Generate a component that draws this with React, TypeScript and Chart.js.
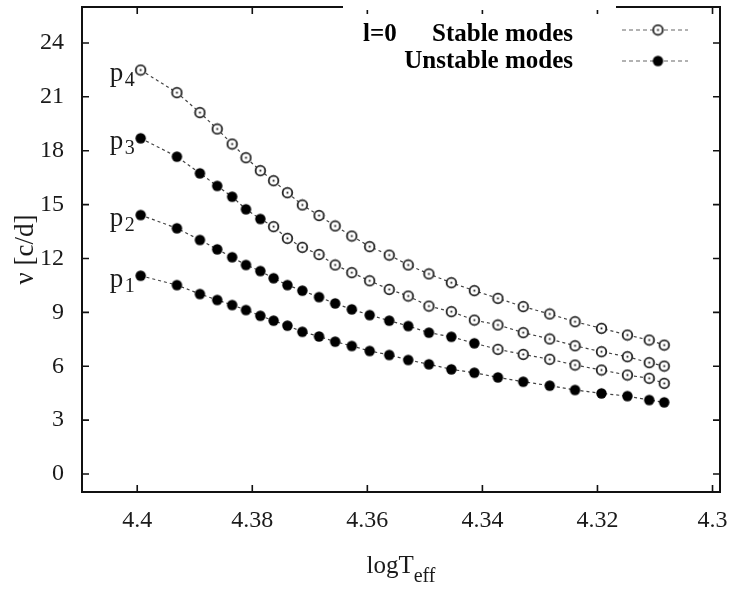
import React, { useEffect, useRef } from 'react';
import { Chart, registerables } from 'chart.js';

Chart.register(...registerables);

// ---- data ----
const logTeff = [
  4.3994, 4.3931, 4.3891, 4.3861, 4.3835, 4.3811, 4.3786, 4.3763, 4.3739, 4.3713,
  4.3684, 4.3656, 4.3627, 4.3596, 4.3562, 4.3529, 4.3493, 4.3454, 4.3414, 4.3373,
  4.3329, 4.3283, 4.3239, 4.3193, 4.3148, 4.3110, 4.3084,
];
const p1 = [
  11.04, 10.52, 10.02, 9.69, 9.41, 9.13, 8.81, 8.54, 8.26, 7.92,
  7.66, 7.37, 7.13, 6.85, 6.63, 6.35, 6.11, 5.83, 5.64, 5.38,
  5.14, 4.92, 4.68, 4.49, 4.34, 4.12, 3.99,
];
const p2 = [
  14.42, 13.68, 13.03, 12.51, 12.07, 11.64, 11.30, 10.90, 10.52, 10.21,
  9.85, 9.50, 9.17, 8.85, 8.54, 8.24, 7.87, 7.64, 7.28, 6.94,
  6.66, 6.39, 6.07, 5.79, 5.51, 5.33, 5.05,
];
const p3 = [
  18.69, 17.67, 16.74, 16.04, 15.44, 14.74, 14.20, 13.77, 13.12, 12.62,
  12.22, 11.64, 11.21, 10.76, 10.28, 9.91, 9.35, 9.04, 8.57, 8.30,
  7.87, 7.52, 7.14, 6.81, 6.53, 6.20, 6.01,
];
const p4 = [
  22.49, 21.23, 20.12, 19.21, 18.37, 17.61, 16.89, 16.33, 15.66, 14.98,
  14.39, 13.81, 13.25, 12.66, 12.19, 11.64, 11.14, 10.65, 10.21, 9.78,
  9.32, 8.91, 8.48, 8.11, 7.74, 7.46, 7.18,
];
const modeSeries = [p1, p2, p3, p4];
const modeNumbers = ['1', '2', '3', '4'];
// number of leading (hot side) points that are unstable, per mode
const unstableCounts = [27, 19, 7, 0];
const xTickValues = [4.4, 4.38, 4.36, 4.34, 4.32, 4.3];
const yTickValues = [0, 3, 6, 9, 12, 15, 18, 21, 24];
const legendDegree = 'l=0';
const legendLabels = ['Stable modes', 'Unstable modes'];
const xTitleMain = 'logT';
const xTitleSub = 'eff';
const yTitle = 'ν [c/d]';

const SERIF = '"Liberation Serif", "Times New Roman", serif';
const TEXT = '#1a1a1a';

function makeMarker(filled: boolean): HTMLCanvasElement {
  const c = document.createElement('canvas');
  c.width = 13;
  c.height = 13;
  const g = c.getContext('2d')!;
  g.beginPath();
  if (filled) {
    g.arc(6.5, 6.5, 5.2, 0, Math.PI * 2);
    g.fillStyle = '#000';
    g.fill();
  } else {
    g.arc(6.5, 6.5, 4.8, 0, Math.PI * 2);
    g.fillStyle = '#fff';
    g.fill();
    g.lineWidth = 1.8;
    g.strokeStyle = '#222';
    g.stroke();
    g.fillStyle = '#111';
    g.fillRect(5.6, 5.6, 1.8, 1.8);
  }
  return c;
}

function zeroPad(s: any) {
  s.paddingLeft = 0;
  s.paddingRight = 0;
  s.paddingTop = 0;
  s.paddingBottom = 0;
}

export default function App() {
  const ref = useRef<HTMLCanvasElement | null>(null);

  useEffect(() => {
    if (!ref.current) return;
    const filledImg = makeMarker(true);
    const openImg = makeMarker(false);

    const decor = {
      id: 'decor',
      afterDraw(chart: any) {
        const { ctx, chartArea: a, scales } = chart;
        const xs = scales.x;
        const ys = scales.y;
        ctx.save();
        // frame
        ctx.strokeStyle = '#111';
        ctx.lineWidth = 2;
        ctx.strokeRect(a.left, a.top, a.right - a.left, a.bottom - a.top);
        // inward mirrored ticks
        const tl = 7;
        ctx.lineWidth = 1.6;
        ctx.beginPath();
        xs.ticks.forEach((t: any) => {
          const px = xs.getPixelForValue(t.value);
          ctx.moveTo(px, a.bottom);
          ctx.lineTo(px, a.bottom - tl);
          ctx.moveTo(px, a.top);
          ctx.lineTo(px, a.top + tl);
        });
        ys.ticks.forEach((t: any) => {
          const py = ys.getPixelForValue(t.value);
          ctx.moveTo(a.left, py);
          ctx.lineTo(a.left + tl, py);
          ctx.moveTo(a.right, py);
          ctx.lineTo(a.right - tl, py);
        });
        ctx.stroke();

        // mode labels p1..p4
        ctx.fillStyle = TEXT;
        ctx.textAlign = 'left';
        ctx.textBaseline = 'alphabetic';
        modeSeries.forEach((s, i) => {
          const px = xs.getPixelForValue(logTeff[0]);
          const py = ys.getPixelForValue(s[0]);
          ctx.font = `27px ${SERIF}`;
          ctx.fillText('p', px - 31, py + 11);
          ctx.font = `20px ${SERIF}`;
          ctx.fillText(modeNumbers[i], px - 16, py + 16);
        });

        // legend (white box covering the frame)
        const bx0 = a.left + 261;
        const bx1 = a.right - 104;
        ctx.fillStyle = '#fff';
        ctx.fillRect(bx0, 0, bx1 - bx0, a.top + 3);
        ctx.fillStyle = '#000';
        ctx.font = `bold 25px ${SERIF}`;
        const rows = [a.top + 23, a.top + 54];
        ctx.textBaseline = 'middle';
        ctx.textAlign = 'left';
        ctx.fillText(legendDegree, bx0 + 20, rows[0] + 5);
        ctx.textAlign = 'right';
        ctx.fillText(legendLabels[0], bx1 - 43, rows[0] + 5);
        ctx.fillText(legendLabels[1], bx1 - 43, rows[1] + 1);
        const lx0 = a.right - 98;
        const lx1 = a.right - 32;
        const mx = a.right - 62;
        ctx.strokeStyle = '#999';
        ctx.lineWidth = 1.3;
        ctx.setLineDash([4, 3]);
        rows.forEach((ry) => {
          ctx.beginPath();
          ctx.moveTo(lx0, ry);
          ctx.lineTo(lx1, ry);
          ctx.stroke();
        });
        ctx.setLineDash([]);
        ctx.drawImage(openImg, mx - 6.5, rows[0] - 6.5);
        ctx.drawImage(filledImg, mx - 6.5, rows[1] - 6.5);

        // axis titles
        ctx.fillStyle = TEXT;
        const cx = (a.left + a.right) / 2;
        ctx.textBaseline = 'alphabetic';
        ctx.font = `25px ${SERIF}`;
        const wMain = ctx.measureText(xTitleMain).width;
        ctx.font = `20px ${SERIF}`;
        const wSub = ctx.measureText(xTitleSub).width;
        const start = cx - (wMain + wSub) / 2;
        ctx.textAlign = 'left';
        ctx.font = `25px ${SERIF}`;
        ctx.fillText(xTitleMain, start, a.bottom + 81);
        ctx.font = `20px ${SERIF}`;
        ctx.fillText(xTitleSub, start + wMain, a.bottom + 90);

        ctx.save();
        ctx.translate(26, (a.top + a.bottom) / 2);
        ctx.rotate(-Math.PI / 2);
        ctx.textAlign = 'center';
        ctx.textBaseline = 'middle';
        ctx.font = `27px ${SERIF}`;
        ctx.fillText(yTitle, 0, 0);
        ctx.restore();

        ctx.restore();
      },
    };

    const datasets = modeSeries.map((s, i) => ({
      label: 'p' + modeNumbers[i],
      data: s.map((v, j) => ({ x: logTeff[j], y: v })),
      borderColor: '#444',
      borderWidth: 1.2,
      borderDash: [3, 3],
      pointStyle: (c: any) => (c.dataIndex < unstableCounts[i] ? filledImg : openImg),
      pointRadius: 5,
      pointHoverRadius: 5,
      showLine: true,
      fill: false,
      tension: 0,
    }));

    const chart = new Chart(ref.current, {
      type: 'scatter',
      data: { datasets },
      options: {
        animation: false,
        responsive: false,
        devicePixelRatio: 1,
        events: [],
        layout: { padding: { top: 7, right: 11, left: 0, bottom: 0 } },
        plugins: { legend: { display: false }, tooltip: { enabled: false }, title: { display: false } },
        scales: {
          x: {
            type: 'linear',
            reverse: true,
            min: 4.2987,
            max: 4.4096,
            grid: { display: false },
            border: { display: false },
            afterBuildTicks: (s: any) => {
              s.ticks = xTickValues.map((v) => ({ value: v }));
            },
            afterFit: (s: any) => {
              s.height = 98;
              zeroPad(s);
            },
            ticks: {
              autoSkip: false,
              maxRotation: 0,
              minRotation: 0,
              padding: 6,
              color: TEXT,
              font: { family: SERIF, size: 24 },
              callback: (v: any) => String(v),
            },
          },
          y: {
            type: 'linear',
            min: -1,
            max: 26,
            grid: { display: false },
            border: { display: false },
            afterBuildTicks: (s: any) => {
              s.ticks = yTickValues.map((v) => ({ value: v }));
            },
            afterFit: (s: any) => {
              s.width = 82;
              zeroPad(s);
            },
            ticks: {
              autoSkip: false,
              padding: 10,
              color: TEXT,
              font: { family: SERIF, size: 24 },
              callback: (v: any) => String(v),
            },
          },
        },
      },
      plugins: [decor],
    });
    return () => chart.destroy();
  }, []);

  return (
    <div style={{ position: 'absolute', left: 0, top: 0, width: 731, height: 590, background: '#fff' }}>
      <canvas ref={ref} width={731} height={590} style={{ width: 731, height: 590 }} />
    </div>
  );
}
